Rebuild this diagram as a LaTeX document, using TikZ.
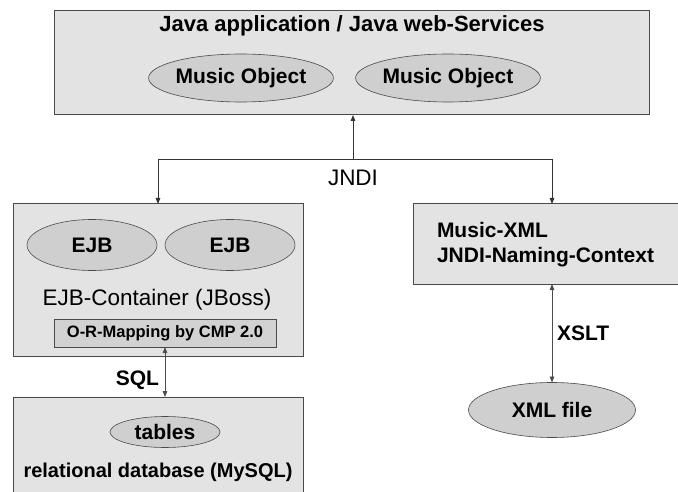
\documentclass[tikz,border=0pt]{standalone}
\usepackage{fontspec}
\setmainfont{Liberation Sans}
\usepackage{tikz}
\usetikzlibrary{arrows.meta, positioning, calc, shapes.geometric}
\usepackage{xcolor}
\definecolor{boxgray}{HTML}{E3E3E3}
\definecolor{ovalgray}{HTML}{CFCFCF}
\definecolor{mapgray}{HTML}{D2D2D2}
\definecolor{edgegray}{HTML}{4A4A4A}
\newcommand{\lblfont}{\fontsize{21}{25}\selectfont\bfseries}
\newcommand{\txtfont}{\fontsize{22.5}{26}\selectfont}

\begin{document}
\begin{tikzpicture}[x=1pt, y=-1pt,
  every node/.style={inner sep=0pt, outer sep=0pt},
  box/.style={draw=edgegray, line width=1pt, fill=boxgray, rectangle},
  oval/.style={draw=edgegray, line width=0.6pt, fill=ovalgray, ellipse, font=\lblfont},
  arr/.style={-{Triangle[length=6pt, width=4.5pt]}, line width=0.8pt, draw=black!80},
  dblarr/.style={{Triangle[length=6pt, width=4.5pt]}-{Triangle[length=6pt, width=4.5pt]}, line width=0.8pt, draw=black!70}
]
  \useasboundingbox (0,0) rectangle (678,492);
  % application layer
  \node[box, minimum width=595, minimum height=104] (app) at (351.5,63) {};
  \node[font=\fontsize{22}{26}\selectfont\bfseries] (apptitle) at (352,26) {Java application / Java web-Services};
  \node[oval, minimum width=152, minimum height=48] (mo1) at (241,78) {Music Object};
  \node[oval, minimum width=152, minimum height=48] (mo2) at (448,78) {Music Object};
  % JNDI junction
  \coordinate (jn) at (353,159);
  \node[font=\txtfont] (jndi) at (353,178) {JNDI};
  % EJB container
  \node[box, minimum width=290, minimum height=152] (ejbc) at (158,280) {};
  \node[oval, minimum width=130, minimum height=51] (ejb1) at (92,245) {EJB};
  \node[oval, minimum width=130, minimum height=51] (ejb2) at (230,245) {EJB};
  \node[font=\txtfont] (contlbl) at (157,300) {EJB-Container (JBoss)};
  \node[draw=edgegray, line width=0.8pt, fill=mapgray, minimum width=222, minimum height=28,
        font=\fontsize{16.5}{20}\selectfont\bfseries] (orm) at (165,333) {O-R-Mapping by CMP 2.0};
  % database
  \node[box, minimum width=290, minimum height=130] (db) at (158,462) {};
  \node[oval, minimum width=110, minimum height=31] (tables) at (165,432) {tables};
  \node[font=\fontsize{20}{24}\selectfont\bfseries] (dblbl) at (158,472) {relational database (MySQL)};
  \node[font=\lblfont, anchor=east] (sql) at (159,380) {SQL};
  % naming context
  \node[box, minimum width=278, minimum height=80] (ctx) at (552,244) {};
  \node[font=\lblfont, align=left, anchor=west] (ctxlbl) at (437,245) {Music-XML\\JNDI-Naming-Context};
  \node[oval, minimum width=167, minimum height=55] (xml) at (552,410) {XML file};
  \node[font=\lblfont, anchor=west] (xslt) at (557,333) {XSLT};
  % connectors
  \draw[arr] (jn) -- (jn |- app.south);
  \draw[arr] (jn) -| (ejbc.north);
  \draw[arr] (jn) -| (ctx.north);
  \draw[dblarr] (orm.south) -- (orm.south |- db.north);
  \draw[dblarr] (ctx.south) -- (xml.north);
\end{tikzpicture}
\end{document}
